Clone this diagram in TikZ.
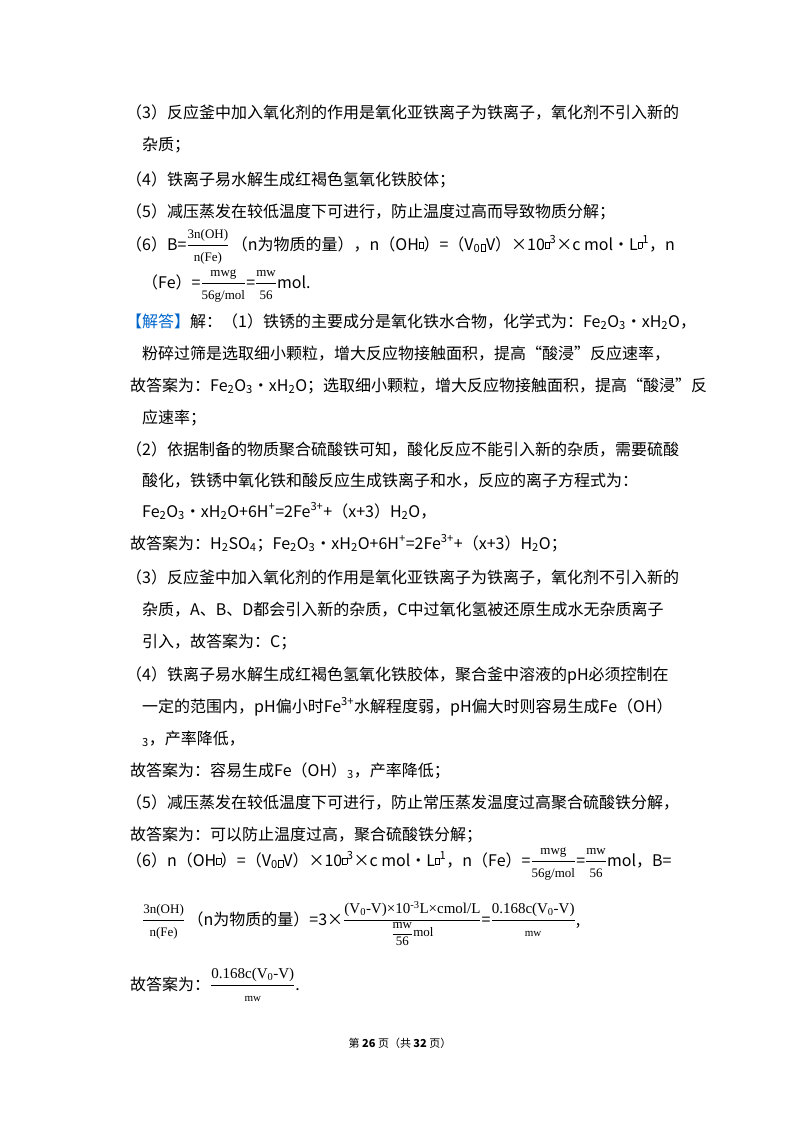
\documentclass[tikz,border=0pt]{standalone}
\usepackage{fontspec}
\setmainfont{Noto Sans CJK SC}
\newfontfamily\sr{Liberation Serif}
\definecolor{jd}{RGB}{0,102,204}
\newcommand{\qb}{\kern0.5pt\fbox{\rule{0pt}{5pt}\kern3pt}\kern0.5pt}
\newcommand{\qbs}{\raisebox{3pt}{\fbox{\rule{0pt}{4pt}\kern3pt}}}
\newcommand{\fr}[2]{$\displaystyle\frac{\hbox{\sr\fontsize{13}{13}\selectfont #1}}{\hbox{\sr\fontsize{13}{13}\selectfont #2}}$}
\newcommand{\sbs}[1]{\textsubscript{#1}}
\newcommand{\sps}[1]{\textsuperscript{#1}}
\begin{document}
\begin{tikzpicture}[x=1pt,y=-1pt,
  ln/.style={anchor=base west,inner sep=0pt,font=\fontsize{16}{18}\selectfont}]
\useasboundingbox[fill=white] (0,0) rectangle (800,1132);
\setlength{\fboxsep}{0.5pt}\setlength{\fboxrule}{0.3pt}
\node[ln] (l1) at (126,118) {（3）反应釜中加入氧化剂的作用是氧化亚铁离子为铁离子，氧化剂不引入新的};
\node[ln] (l2) at (142,150) {杂质；};
\node[ln] (l3) at (126,185) {（4）铁离子易水解生成红褐色氢氧化铁胶体；};
\node[ln] (l4) at (126,217) {（5）减压蒸发在较低温度下可进行，防止温度过高而导致物质分解；};
\node[ln] (l5) at (126,250) {（6）B=\fr{3n(OH)}{n(Fe)}\,（n为物质的量），n（OH\qbs）=（V\sbs{0}\qb V）×10\qbs\sps{3}×c mol•L\qbs\sps{1}，n};
\node[ln] (l6) at (142,288) {（Fe）=\fr{mwg}{56g/mol}=\fr{mw}{56}mol.};
\node[ln] (l7) at (126,327) {\textcolor{jd}{【解答】}解：（1）铁锈的主要成分是氧化铁水合物，化学式为：Fe\sbs{2}O\sbs{3}•xH\sbs{2}O，};
\node[ln] (l8) at (142,359) {粉碎过筛是选取细小颗粒，增大反应物接触面积，提高“酸浸”反应速率，};
\node[ln] (l9) at (130,391) {故答案为：Fe\sbs{2}O\sbs{3}•xH\sbs{2}O；选取细小颗粒，增大反应物接触面积，提高“酸浸”反};
\node[ln] (l10) at (142,423) {应速率；};
\node[ln] (l11) at (126,455) {（2）依据制备的物质聚合硫酸铁可知，酸化反应不能引入新的杂质，需要硫酸};
\node[ln] (l12) at (142,486) {酸化，铁锈中氧化铁和酸反应生成铁离子和水，反应的离子方程式为：};
\node[ln] (l13) at (142,517) {Fe\sbs{2}O\sbs{3}•xH\sbs{2}O+6H\sps{+}=2Fe\sps{3+}+（x+3）H\sbs{2}O，};
\node[ln] (l14) at (130,549) {故答案为：H\sbs{2}SO\sbs{4}；Fe\sbs{2}O\sbs{3}•xH\sbs{2}O+6H\sps{+}=2Fe\sps{3+}+（x+3）H\sbs{2}O；};
\node[ln] (l15) at (126,583) {（3）反应釜中加入氧化剂的作用是氧化亚铁离子为铁离子，氧化剂不引入新的};
\node[ln] (l16) at (142,615) {杂质，A、B、D都会引入新的杂质，C中过氧化氢被还原生成水无杂质离子};
\node[ln] (l17) at (142,647) {引入，故答案为：C；};
\node[ln] (l18) at (126,680) {（4）铁离子易水解生成红褐色氢氧化铁胶体，聚合釜中溶液的pH必须控制在};
\node[ln] (l19) at (142,712) {一定的范围内，pH偏小时Fe\sps{3+}水解程度弱，pH偏大时则容易生成Fe（OH）};
\node[ln] (l20) at (142,744) {\sbs{3}，产率降低，};
\node[ln] (l21) at (130,776) {故答案为：容易生成Fe（OH）\sbs{3}，产率降低；};
\node[ln] (l22) at (126,808) {（5）减压蒸发在较低温度下可进行，防止常压蒸发温度过高聚合硫酸铁分解，};
\node[ln] (l23) at (130,840) {故答案为：可以防止温度过高，聚合硫酸铁分解；};
\node[ln] (l24) at (126,866) {（6）n（OH\qbs）=（V\sbs{0}\qb V）×10\qbs\sps{3}×c mol•L\qbs\sps{1}，n（Fe）=\fr{mwg}{56g/mol}=\fr{mw}{56}mol，B=};
\node[ln] (l25) at (142,925) {\fr{3n(OH)}{n(Fe)}\,（n为物质的量）=3×$\displaystyle\frac{\hbox{\sr\fontsize{15}{15}\selectfont(V\textsubscript{0}-V)×10\textsuperscript{-3}L×cmol/L}}{\hbox{\sr\fontsize{13}{13}\selectfont$\displaystyle\frac{\hbox{mw}}{\hbox{56}}$mol}}$=$\displaystyle\frac{\hbox{\sr\fontsize{15}{15}\selectfont 0.168c(V\textsubscript{0}-V)}}{\hbox{\sr\fontsize{11}{11}\selectfont mw}}$,};
\node[ln] (l26) at (130,990) {故答案为：$\displaystyle\frac{\hbox{\sr\fontsize{15}{15}\selectfont 0.168c(V\textsubscript{0}-V)}}{\hbox{\sr\fontsize{11}{11}\selectfont mw}}$.};
\node[anchor=base,inner sep=0pt,font=\fontsize{11}{13}\selectfont] (ft) at (400,1047) {第 \textbf{26} 页（共 \textbf{32} 页）};
\end{tikzpicture}
\end{document}
